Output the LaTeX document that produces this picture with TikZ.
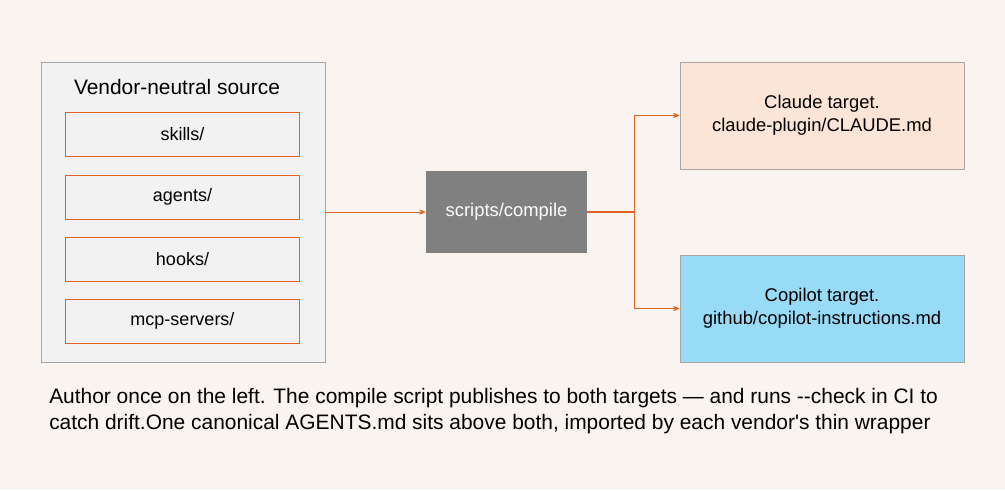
\documentclass[tikz,border=0pt]{standalone}
\usepackage{fontspec}
\setmainfont{Liberation Sans}
\usetikzlibrary{arrows.meta}
\definecolor{bgc}{HTML}{F9F4EF}
\definecolor{panel}{HTML}{F2F2F2}
\definecolor{edgeo}{HTML}{E2631F}
\definecolor{frame}{HTML}{A6A6A6}
\definecolor{claudec}{HTML}{FCE4D6}
\definecolor{copilotc}{HTML}{97DBF7}
\begin{document}
\begin{tikzpicture}[x=0.75pt,y=-0.75pt]
        \tikzset{item/.style = {draw=edgeo,fill=panel,minimum width=175.5pt,minimum height=33pt,font=\fontsize{13.5}{15}\selectfont}}
        \tikzset{target/.style = {draw=frame,minimum width=213pt,minimum height=80pt,align=center,font=\fontsize{13.8}{17}\selectfont}}
        \tikzset{edge/.style = {draw=edgeo,-{Stealth[length=5pt,width=4pt]}}}
        \fill[bgc] (0,0) rectangle (1005,490);
        % source panel
        \node[draw=frame,fill=panel,minimum width=213pt,minimum height=225pt] (src) at (183,212) {};
        \node[font=\fontsize{15.7}{18}\selectfont] (title) at (177,87) {Vendor-neutral source};
        \node[item] (skills) at (182.5,134) {skills/};
        \node[item] (agents) at (182.5,197) {agents/};
        \node[item] (hooks) at (182.5,259) {hooks/};
        \node[item] (mcp) at (182.5,321) {mcp-servers/};
        % compiler and targets
        \node[fill=black!50,text=white,minimum width=120.75pt,minimum height=61.5pt,font=\fontsize{13.8}{15}\selectfont] (compile) at (506.5,212) {scripts/compile};
        \node[target,fill=claudec] (claude) at (822,115.5) {Claude target.\\claude-plugin/CLAUDE.md};
        \node[target,fill=copilotc] (copilot) at (822,308.5) {Copilot target.\\github/copilot-instructions.md};
        \coordinate (split) at (634,212);
        %edges
        \draw[edge] (src.east) -- (compile.west);
        \draw[draw=edgeo,thick] (compile.east) -- (split);
        \draw[edge] (split) |- (claude.west);
        \draw[edge] (split) |- (copilot.west);
        % caption
        \node[anchor=north west,align=left,inner sep=0pt,font=\fontsize{15.7}{19.5}\selectfont] (note) at (49,388) {Author once on the left. The compile script publishes to both targets — and runs -{}-check in CI to\\catch drift.One canonical AGENTS.md sits above both, imported by each vendor\textquotesingle s thin wrapper};
\end{tikzpicture}
\end{document}
